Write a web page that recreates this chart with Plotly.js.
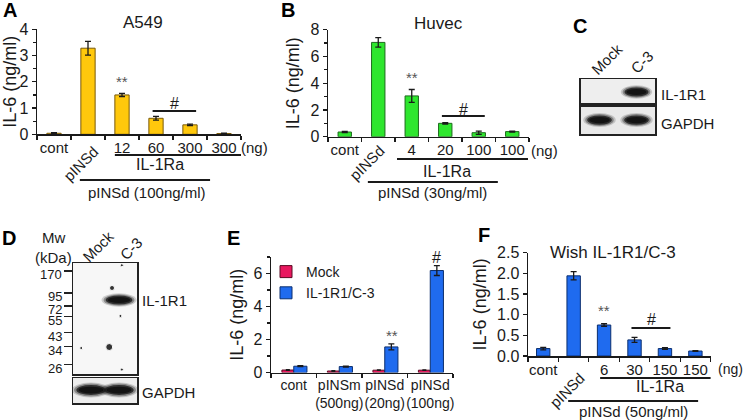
<!DOCTYPE html>
<html><head><meta charset="utf-8">
<script src="https://cdn.plot.ly/plotly-3.0.1.min.js"></script>
<style>html,body{margin:0;padding:0;background:#fff}#chart{width:745px;height:420px}</style>
</head><body><div id="chart"></div>
<script>
// ---------------- data ----------------
const aLabels = ['cont','pINSd','12','60','300','300'];
const aValues = [0.04, 3.28, 1.50, 0.61, 0.36, 0.03];
const aErrors = [0.02, 0.26, 0.06, 0.07, 0.03, 0.01];

const bLabels = ['cont','pINSd','4','20','100','100'];
const bValues = [0.35, 7.05, 3.05, 1.00, 0.30, 0.38];
const bErrors = [0.05, 0.36, 0.48, 0.05, 0.12, 0.03];

const eCategories = ['cont','pINSm<br>(500ng)','pINSd<br>(20ng)','pINSd<br>(100ng)'];
const eSeriesNames = ['Mock','IL-1R1/C-3'];
const eMock = [0.15, 0.09, 0.14, 0.14];
const eMockErr = [0.02, 0.02, 0.02, 0.02];
const eC3 = [0.38, 0.36, 1.55, 6.18];
const eC3Err = [0.03, 0.03, 0.18, 0.30];

const fLabels = ['cont','pINSd','6','30','150','150'];
const fValues = [0.18, 1.94, 0.75, 0.39, 0.18, 0.12];
const fErrors = [0.03, 0.10, 0.03, 0.06, 0.02, 0.01];

const blotLanes = ['Mock','C-3'];
const cIL1R1 = [0, 1];
const cGAPDH = [1, 1];
const dIL1R1 = [0, 1];
const dGAPDH = [1, 1];
const ladderKDa = [170, 95, 72, 55, 43, 34, 26];
const ladderPos = [7.2, 26.8, 38.7, 48.4, 62.8, 75.4, 91.3];
const dIL1R1Pos = 33.3;
const spotLane = [1.1, -0.35, 0.75, 1.05, 0.65, 1.1];
const spotPos  = [2, 76.6, 22.5, 47.7, 75.7, 96];
const spotSize = [3, 3, 5, 3, 7, 3];

// ---------------- helpers ----------------
const W = 745, H = 420;
const px = x => x / W;
const py = y => 1 - y / H;
const FONT = 'Liberation Sans, Arial, Helvetica, sans-serif';
const INK = '#1a1a1a';
const idx6 = [0,1,2,3,4,5];

const annotations = [];
const shapes = [];
const traces = [];

function txt(text, x, y, o) {
  annotations.push(Object.assign({text, x, y, xref:'paper', yref:'paper', showarrow:false,
    xanchor:'center', yanchor:'middle', font:{family:FONT, size:15, color:INK}}, o || {}));
}

const base = {showgrid:false, zeroline:false, showline:true, linecolor:INK, linewidth:1.5,
  tickcolor:INK, tickwidth:1.2, fixedrange:true, tickfont:{family:FONT, size:16, color:INK}};

const layout = {
  width: W, height: H, margin:{l:0,r:0,t:0,b:0},
  paper_bgcolor:'#ffffff', plot_bgcolor:'rgba(0,0,0,0)',
  font:{family:FONT, color:INK},
  showlegend:true,
  legend:{x:px(266), y:py(256), xanchor:'left', yanchor:'top', bgcolor:'rgba(0,0,0,0)',
          font:{family:FONT, size:14, color:INK}, tracegroupgap:0, itemgap:0},
  annotations, shapes
};

function singlePanel(p) {
  const xs = p.xa === 'x' ? '' : p.xa.slice(1);
  traces.push({type:'bar', x:idx6, y:p.values, xaxis:p.xa, yaxis:p.ya, width:p.barWidth,
    marker:{color:p.color, line:{color:p.lineColor, width:1}}, showlegend:false,
    error_y:{type:'data', array:p.errors, visible:true, color:INK, thickness:1.3, width:3}});
  layout['xaxis'+xs] = Object.assign({}, base, {domain:[px(p.x0), px(p.x1)], anchor:p.ya,
    range:[-0.5,5.5], tickmode:'array', tickvals:idx6, tickangle:0,
    ticktext:p.labels.map((l,i)=> i===1 ? '' : l), ticks:'', ticklabelstandoff:p.lblStand,
    tickfont:{family:FONT, size:15, color:INK},
    minor:{tickmode:'linear', tick0:0.5, dtick:1, ticks:'outside', ticklen:4, tickcolor:INK, tickwidth:1.2, showgrid:false}});
  layout['yaxis'+xs] = Object.assign({}, base, {domain:[py(p.y0), py(p.yTop)], anchor:p.xa,
    range:p.yRange, dtick:p.dtick, tickformat:p.tickformat || '', ticks:'outside', ticklen:4,
    minor: p.minor ? {dtick:p.minor, ticks:'outside', ticklen:3, tickcolor:INK, tickwidth:1.2, showgrid:false} : undefined,
    title:{text:'IL-6 (ng/ml)', font:{family:FONT, size:18, color:INK}, standoff:p.standoff}});
  // rotated pINSd label
  annotations.push({text:p.labels[1], x:1, y:py(p.rotY), xref:p.xa, yref:'paper', xshift:p.rotShift,
    textangle:-45, showarrow:false, xanchor:'center', yanchor:'middle', font:{family:FONT, size:15, color:INK}});
  // (ng)
  annotations.push({text:'(ng)', x:5.5, y:py(p.labelY), xref:p.xa, yref:'paper', xshift:p.ngShift,
    showarrow:false, xanchor:'left', yanchor:'middle', font:{family:FONT, size:p.ngSize, color:INK}});
  // significance
  annotations.push({text:'**', x:2, y:p.starY, xref:p.xa, yref:p.ya, showarrow:false,
    xanchor:'center', yanchor:'middle', font:{family:FONT, size:15, color:'#555'}});
  shapes.push({type:'line', xref:p.xa, yref:p.ya, x0:2.9, x1:4.18, y0:p.hashLineY, y1:p.hashLineY,
    line:{color:INK, width:2}});
  annotations.push({text:'#', x:3.55, y:p.hashY, xref:p.xa, yref:p.ya, showarrow:false,
    xanchor:'center', yanchor:'middle', font:{family:FONT, size:16, color:INK}});
  // group lines and captions
  shapes.push({type:'line', xref:p.xa, yref:'paper', x0:p.line1[0], x1:p.line1[1], y0:py(p.line1[2]), y1:py(p.line1[2]), line:{color:INK, width:2}});
  shapes.push({type:'line', xref:p.xa, yref:'paper', x0:p.line2[0], x1:p.line2[1], y0:py(p.line2[2]), y1:py(p.line2[2]), line:{color:INK, width:2}});
  annotations.push({text:'IL-1Ra', x:p.cap1[0], y:py(p.cap1[1]), xref:p.xa, yref:'paper', showarrow:false,
    xanchor:'center', yanchor:'middle', font:{family:FONT, size:16, color:INK}});
  annotations.push({text:p.cap2Text, x:p.cap2[0], y:py(p.cap2[1]), xref:p.xa, yref:'paper', showarrow:false,
    xanchor:'center', yanchor:'middle', font:{family:FONT, size:15, color:INK}});
  // title
  txt(p.title, px(p.titleX), py(p.titleY), {font:{family:FONT, size:17, color:INK}});
}

// ---------------- Panel A ----------------
singlePanel({xa:'x', ya:'y', labels:aLabels, values:aValues, errors:aErrors,
  color:'#FFC80C', lineColor:'#7a5a0a', barWidth:0.42, lblStand:-1,
  x0:37, x1:241, y0:134.3, yTop:29.3, yRange:[0,4], dtick:1, minor:0.5, standoff:6,
  rotY:163.5, rotShift:-7, labelY:147, ngShift:-2, ngSize:15,
  starY:2.0, hashLineY:0.89, hashY:1.16,
  line1:[1.79,5.72,155], line2:[0.76,4.59,180], cap1:[3.12,165], cap2:[2.74,193],
  cap2Text:'pINSd (100ng/ml)', title:'A549', titleX:143, titleY:22});

// ---------------- Panel B ----------------
singlePanel({xa:'x2', ya:'y2', labels:bLabels, values:bValues, errors:bErrors,
  color:'#2EE62E', lineColor:'#1d6a1d', barWidth:0.40, lblStand:-1,
  x0:328, x1:529, y0:136.7, yTop:29.7, yRange:[0,8], dtick:2, minor:1, standoff:6,
  rotY:162.5, rotShift:-11, labelY:150, ngShift:0, ngSize:15,
  starY:4.4, hashLineY:1.55, hashY:2.0,
  line1:[1.56,5.47,159], line2:[0.69,4.57,182], cap1:[3.05,171], cap2:[2.63,193],
  cap2Text:'pINSd (30ng/ml)', title:'Huvec', titleX:438, titleY:23});

// ---------------- Panel F ----------------
singlePanel({xa:'x8', ya:'y8', labels:fLabels, values:fValues, errors:fErrors,
  color:'#1F6BEF', lineColor:'#0c2f6e', barWidth:0.44, lblStand:-1,
  x0:528, x1:710.6, y0:356, yTop:252.7, yRange:[0,2.5], dtick:0.5, tickformat:'.1f', minor:null, standoff:5,
  rotY:390, rotShift:-7, labelY:369, ngShift:5, ngSize:14,
  starY:1.11, hashLineY:0.68, hashY:0.88,
  line1:[1.87,5.82,378], line2:[0.82,5.09,401], cap1:[3.84,386], cap2:[2.95,411],
  cap2Text:'pINSd (50ng/ml)', title:'Wish IL-1R1/C-3', titleX:613, titleY:252});

// ---------------- Panel E ----------------
traces.push({type:'bar', name:eSeriesNames[0], x:eCategories, y:eMock, xaxis:'x7', yaxis:'y7',
  width:0.26, offset:-0.26, marker:{color:'#E8185F', line:{color:'#5a0a22', width:1}},
  error_y:{type:'data', array:eMockErr, color:INK, thickness:1.2, width:2}});
traces.push({type:'bar', name:eSeriesNames[1], x:eCategories, y:eC3, xaxis:'x7', yaxis:'y7',
  width:0.29, offset:0, marker:{color:'#1F6BEF', line:{color:'#0c2f6e', width:1}},
  error_y:{type:'data', array:eC3Err, color:INK, thickness:1.3, width:3}});
layout.xaxis7 = Object.assign({}, base, {domain:[px(271), px(453)], anchor:'y7', type:'category',
  tickson:'boundaries', ticks:'outside', ticklen:4, tickangle:0, ticklabelstandoff:-1,
  tickfont:{family:FONT, size:14, color:INK}});
layout.yaxis7 = Object.assign({}, base, {domain:[py(372.5), py(257)], anchor:'x7', range:[0,7], dtick:2,
  ticks:'outside', ticklen:4, minor:{dtick:1, ticks:'outside', ticklen:3, tickcolor:INK, tickwidth:1.2, showgrid:false},
  title:{text:'IL-6 (ng/ml)', font:{family:FONT, size:18, color:INK}, standoff:5}});
annotations.push({text:'**', x:eCategories[2], y:2.23, xref:'x7', yref:'y7', xshift:7, showarrow:false,
  font:{family:FONT, size:15, color:'#555'}});
annotations.push({text:'#', x:eCategories[3], y:7.0, xref:'x7', yref:'y7', xshift:6, showarrow:false,
  font:{family:FONT, size:16, color:INK}});

// ---------------- Blots ----------------
function blotAxes(n, x0, x1, yTop, yBot, xr, yr) {
  const ax = {showgrid:false, zeroline:false, showline:true, mirror:true, linecolor:'#222', linewidth:1.5,
    ticks:'', showticklabels:false, fixedrange:true};
  layout['xaxis'+n] = Object.assign({}, ax, {domain:[px(x0), px(x1)], anchor:'y'+n, range:xr});
  layout['yaxis'+n] = Object.assign({}, ax, {domain:[py(yBot), py(yTop)], anchor:'x'+n, range:yr});
}
function blotBg(n, color) {
  shapes.push({type:'rect', xref:'x'+n+' domain', yref:'y'+n+' domain', x0:0, x1:1, y0:0, y1:1,
    fillcolor:color, line:{width:0}, layer:'below'});
}
function band(n, cx, cy, w, h, intensity) {
  if (!intensity) return;
  const layers = [[1.25, 1.35, 0.18], [1.1, 1.15, 0.35], [0.95, 0.9, 0.75], [0.8, 0.6, 0.9]];
  layers.forEach(([sw, sh, op]) => {
    shapes.push({type:'circle', xref:'x'+n, yref:'y'+n, x0:cx - w*sw/2, x1:cx + w*sw/2,
      y0:cy - h*sh/2, y1:cy + h*sh/2, fillcolor:'#111', opacity:op*intensity, line:{width:0}});
  });
}
function laneTrace(n, yVal) {
  traces.push({type:'scatter', mode:'markers', x:[0,1], y:[yVal,yVal], xaxis:'x'+n, yaxis:'y'+n,
    marker:{opacity:0}, hoverinfo:'skip', showlegend:false});
}

// C
blotAxes(3, 580.7, 655, 79, 103, [-0.508, 1.5], [0,1]);
blotAxes(4, 580.7, 655, 106.7, 134, [-0.508, 1.5], [0,1]);
blotBg(3, '#eeeeee'); blotBg(4, '#e9e9e9');
laneTrace(3, 0.46); laneTrace(4, 0.51);
cIL1R1.forEach((v,i)=> band(3, i, 0.46, 0.68, 0.42, v));
cGAPDH.forEach((v,i)=> band(4, i, 0.51, 0.70, 0.38, v));
blotLanes.forEach((l,i)=> annotations.push({text:l, x:i, y:py(i===0?59.5:62.5), xref:'x3', yref:'paper',
  xshift: i===0 ? 7 : 5, textangle:-45, showarrow:false, xanchor:'center', yanchor:'middle',
  font:{family:FONT, size:15, color:INK}}));
txt('IL-1R1', px(659), py(95), {xanchor:'left'});
txt('GAPDH', px(659), py(123), {xanchor:'left'});

// D
blotAxes(5, 73, 137, 263, 374, [-0.642, 1.641], [100, 0]);
blotAxes(6, 73, 137, 378, 403, [-0.642, 1.641], [0, 1]);
layout.yaxis5.ticks = 'outside'; layout.yaxis5.ticklen = 8; layout.yaxis5.tickwidth = 1.5;
layout.yaxis5.tickcolor = '#222'; layout.yaxis5.tickmode = 'array'; layout.yaxis5.tickvals = ladderPos;
blotBg(5, '#f7f7f7'); blotBg(6, '#eeeeee');
traces.push({type:'scatter', mode:'markers', x:spotLane, y:spotPos, xaxis:'x5', yaxis:'y5',
  marker:{size:spotSize, color:'#111', opacity:0.85}, hoverinfo:'skip', showlegend:false});
laneTrace(6, 0.52);
dIL1R1.forEach((v,i)=> band(5, i, dIL1R1Pos, 1.0, 9, v));
dGAPDH.forEach((v,i)=> band(6, i, 0.52, 1.1, 0.45, v));
ladderKDa.forEach((k,i)=> annotations.push({text:String(k), x:px(64), y:ladderPos[i], xref:'paper', yref:'y5',
  yshift:-4, showarrow:false, xanchor:'right', yanchor:'middle', font:{family:FONT, size:13, color:INK}}));
blotLanes.forEach((l,i)=> annotations.push({text:l, x:i, y:py(i===0?246.5:248.5), xref:'x5', yref:'paper',
  xshift: i===0 ? 7 : 12, textangle:-45, showarrow:false, xanchor:'center', yanchor:'middle',
  font:{family:FONT, size:15, color:INK}}));
txt('Mw', px(53), py(237)); txt('(kDa)', px(53), py(257));
txt('IL-1R1', px(140), py(300), {xanchor:'left'});
txt('GAPDH', px(140), py(392), {xanchor:'left'});

// panel letters
[['A',9.5,10],['B',287.5,10],['C',579.5,25.5],['D',8.5,237.5],['E',233.5,237.5],['F',484,235]]
  .forEach(([l,x,y]) => txt(l, px(x), py(y), {font:{family:FONT, size:20, color:'#000', weight:'bold'}}));

Plotly.newPlot('chart', traces, layout, {staticPlot:true, displayModeBar:false});
</script></body></html>
